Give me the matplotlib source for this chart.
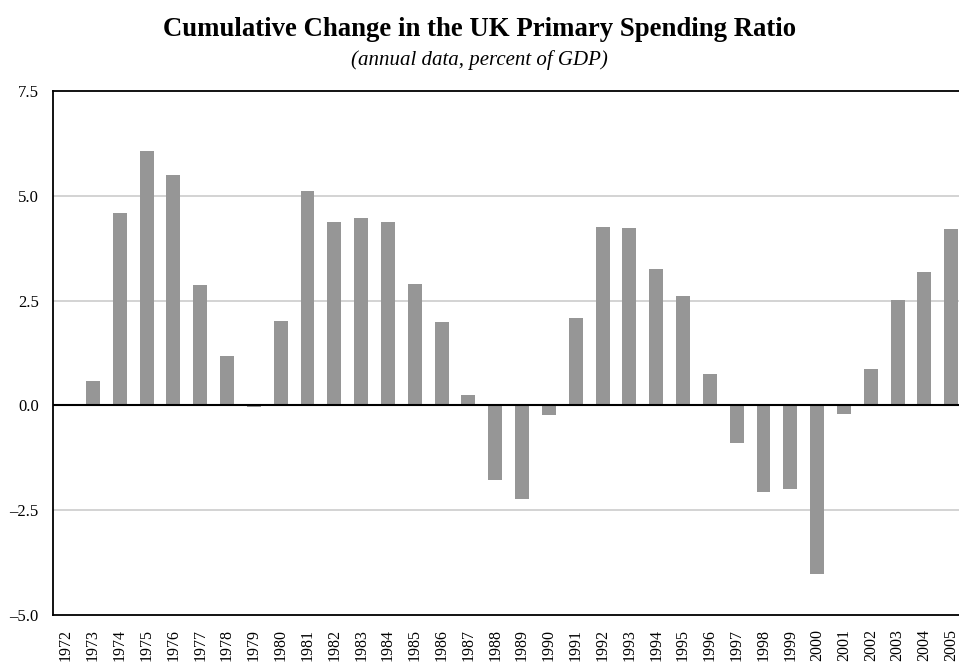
import matplotlib
matplotlib.use("Agg")
import matplotlib.pyplot as plt
import numpy as np

years = [str(y) for y in range(1972, 2006)]
values = [0.0, 0.58, 4.59, 6.07, 5.49, 2.87, 1.17, -0.03, 2.01, 5.11,
          4.37, 4.47, 4.37, 2.89, 1.98, 0.26, -1.77, -2.23, -0.22, 2.08,
          4.25, 4.23, 3.25, 2.60, 0.74, -0.89, -2.06, -1.99, -4.02, -0.20,
          0.88, 2.51, 3.18, 4.21]
yticks = [-5.0, -2.5, 0.0, 2.5, 5.0, 7.5]

plt.rcParams['font.family'] = ['Liberation Serif', 'DejaVu Serif']

fig = plt.figure(figsize=(9.59, 6.63), dpi=100)
ax = fig.add_axes([52.7 / 959, 48 / 663, 912 / 959, 524 / 663])

x = np.arange(len(years))
ax.bar(x, values, width=0.52, color='#969696', zorder=3)

ax.set_xlim(-0.5, len(years) - 0.5)
ax.set_ylim(-5.0, 7.5)
ax.set_yticks(yticks)
ax.set_yticklabels([f"{t:.1f}".replace('-', '\u2013') for t in yticks], fontsize=12)
ax.set_xticks(x)
ax.set_xticklabels(years, rotation=90, fontsize=11.5)
ax.tick_params(axis='x', length=0, pad=10)
ax.tick_params(axis='y', length=0, pad=10)

for t in yticks[1:-1]:
    if t != 0:
        ax.axhline(t, color='#cccccc', linewidth=1.2, zorder=1)
ax.axhline(0, color='black', linewidth=1.5, zorder=4)

for s in ['left', 'bottom', 'top']:
    ax.spines[s].set_linewidth(1.3)
    ax.spines[s].set_color('black')
ax.spines['right'].set_visible(False)

fig.text(0.5, 1 - 30 / 663, 'Cumulative Change in the UK Primary Spending Ratio',
         ha='center', va='center', fontsize=19.3, fontweight='bold')
fig.text(0.5, 1 - 60 / 663, '(annual data, percent of GDP)',
         ha='center', va='center', fontsize=15, fontstyle='italic')

fig.savefig('out.png', dpi=100)
